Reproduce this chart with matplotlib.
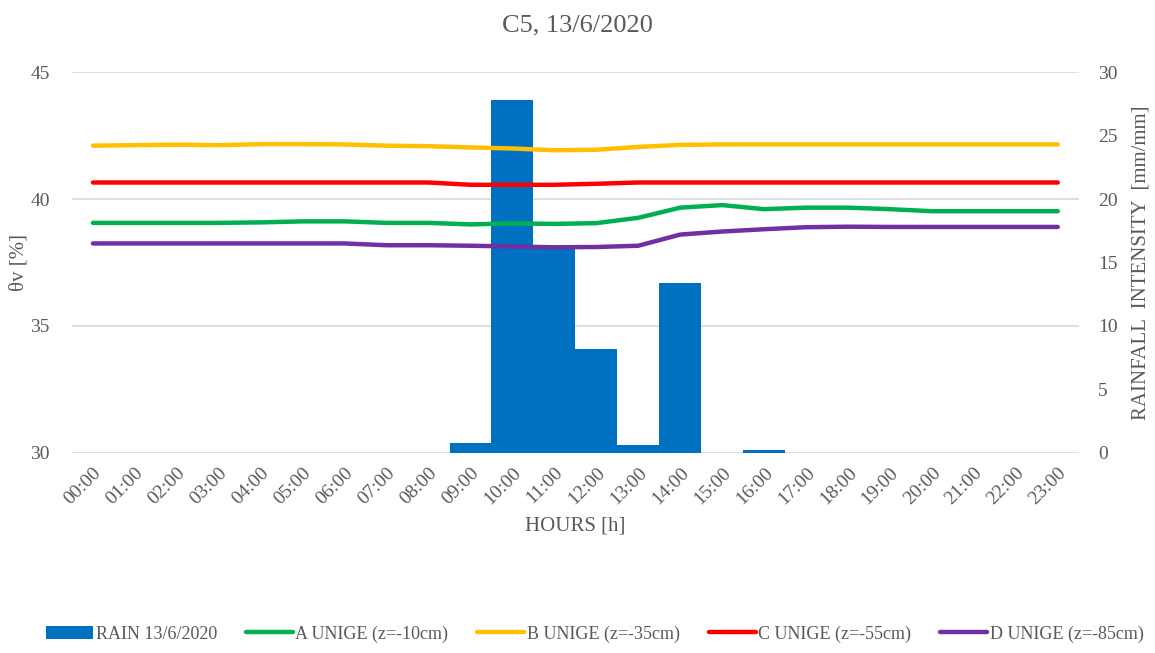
import numpy as np
import matplotlib
matplotlib.use("Agg")
import matplotlib.pyplot as plt

plt.rcParams["font.family"] = ["Liberation Serif", "DejaVu Serif"]

# ---- data ----
hours = [f"{h:02d}:00" for h in range(24)]
rain = [0, 0, 0, 0, 0, 0, 0, 0, 0, 0.8, 27.8, 16.1, 8.2, 0.6, 13.4, 0, 0.2,
        0, 0, 0, 0, 0, 0, 0]
sensor_a = [39.06, 39.06, 39.06, 39.06, 39.08, 39.12, 39.12, 39.06, 39.06, 39.0,
            39.04, 39.02, 39.05, 39.26, 39.66, 39.76, 39.6, 39.66, 39.66, 39.6,
            39.52, 39.52, 39.52, 39.52]
sensor_b = [42.10, 42.12, 42.14, 42.12, 42.16, 42.16, 42.15, 42.10, 42.08, 42.03,
            41.99, 41.92, 41.94, 42.05, 42.13, 42.15, 42.15, 42.15, 42.15, 42.15,
            42.15, 42.15, 42.15, 42.15]
sensor_c = [40.65, 40.65, 40.65, 40.65, 40.65, 40.65, 40.65, 40.65, 40.65, 40.56,
            40.56, 40.56, 40.60, 40.65, 40.65, 40.65, 40.65, 40.65, 40.65, 40.65,
            40.65, 40.65, 40.65, 40.65]
sensor_d = [38.25, 38.25, 38.25, 38.25, 38.25, 38.25, 38.25, 38.18, 38.18, 38.16,
            38.13, 38.10, 38.11, 38.16, 38.60, 38.72, 38.81, 38.89, 38.91, 38.90,
            38.90, 38.90, 38.90, 38.90]

series = [
    ("A UNIGE (z=-10cm)", sensor_a, "#00b050"),
    ("B UNIGE (z=-35cm)", sensor_b, "#ffc000"),
    ("C UNIGE (z=-55cm)", sensor_c, "#ff0000"),
    ("D UNIGE (z=-85cm)", sensor_d, "#7030a0"),
]

txt = "#595959"
x = np.arange(len(hours))

fig = plt.figure(figsize=(11.55, 6.53), dpi=100)
ax = fig.add_axes([0.0623, 0.3063, 0.8717, 0.5834])
ax2 = ax.twinx()

# rain bars on the right axis, drawn under the soil-moisture lines
bars = ax2.bar(x, rain, width=1.0, color="#0070c0", label="RAIN 13/6/2020")
ax2.set_ylim(0, 30)
ax2.set_yticks([0, 5, 10, 15, 20, 25, 30])
ax2.grid(False)
for yv in [0, 10, 20, 30]:
    ax2.axhline(yv, color="#d9d9d9", lw=1.2, zorder=0)
ax2.set_ylabel("RAINFALL  INTENSITY  [mm/mm]", color=txt, fontsize=15)
ax2.yaxis.set_label_coords(1.052, 0.5)

ax.set_zorder(ax2.get_zorder() + 1)
ax.patch.set_visible(False)
handles = [bars]
for name, vals, col in series:
    h, = ax.plot(x, vals, color=col, lw=3.2, solid_capstyle="round", label=name)
    handles.append(h)
ax.set_ylim(30, 45)
ax.set_yticks([30, 35, 40, 45])
ax.set_xlim(-0.5, 23.5)
ax.set_xticks(x)
ax.set_xticklabels(hours, rotation=45, ha="right", rotation_mode="anchor")
ax.set_ylabel("θv [%]", color=txt, fontsize=15)
ax.yaxis.set_label_coords(-0.043, 0.5)
ax.set_xlabel("HOURS [h]", color=txt, fontsize=15, labelpad=6)

for a in (ax, ax2):
    for s in a.spines.values():
        s.set_visible(False)
    a.tick_params(length=0, colors=txt, labelsize=14)
ax.tick_params(axis="y", pad=16)
ax2.tick_params(axis="y", pad=14)
ax.tick_params(axis="x", pad=8)

fig.suptitle("C5, 13/6/2020", color=txt, fontsize=19, y=0.978)

fig.legend(handles=handles, labels=[h.get_label() for h in handles],
           loc="center", bbox_to_anchor=(0.515, 0.029), ncol=5, frameon=False,
           fontsize=13, labelcolor=txt, handlelength=2.6, handletextpad=0.15,
           columnspacing=1.6)

fig.savefig("out.png", dpi=100)
